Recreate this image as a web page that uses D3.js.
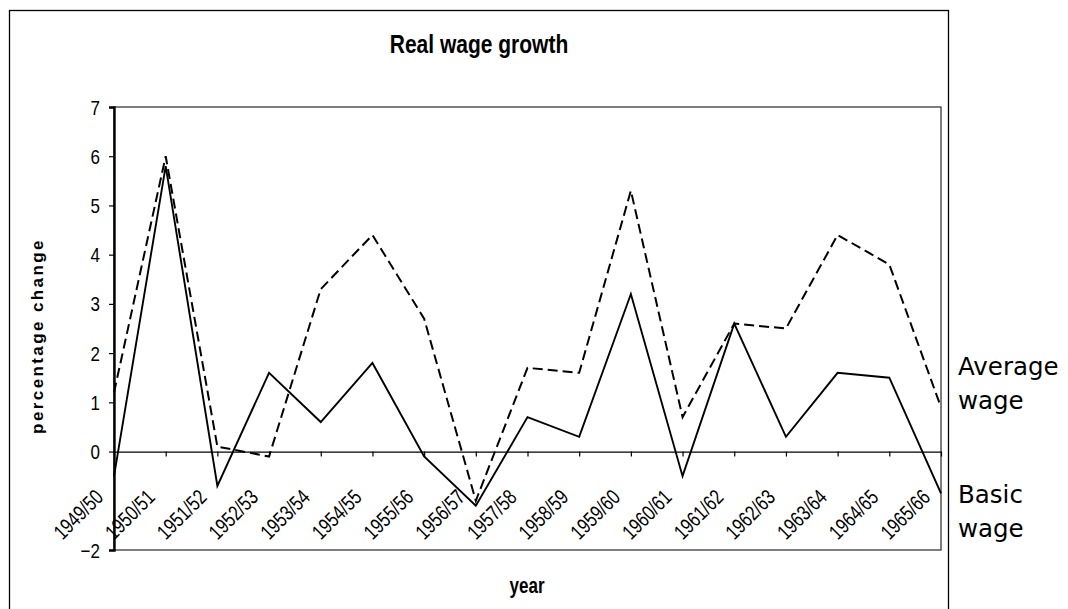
<!DOCTYPE html>
<html>
<head>
<meta charset="utf-8">
<script src="https://cdn.jsdelivr.net/npm/d3@7"></script>
<style>
  html, body { margin: 0; padding: 0; background: #fff; }
  svg { display: block; }
  text { font-family: "Liberation Sans", Arial, sans-serif; fill: #000; }
</style>
</head>
<body>
<svg id="chart" width="1068" height="609"></svg>
<script>
const categories = ["1949/50","1950/51","1951/52","1952/53","1953/54","1954/55","1955/56","1956/57",
  "1957/58","1958/59","1959/60","1960/61","1961/62","1962/63","1963/64","1964/65","1965/66"];
const averageWage = [1.2, 6.0, 0.1, -0.1, 3.3, 4.4, 2.7, -1.0, 1.7, 1.6, 5.3, 0.7, 2.6, 2.5, 4.4, 3.8, 0.9];
const basicWage   = [-0.5, 5.8, -0.7, 1.6, 0.6, 1.8, -0.1, -1.1, 0.7, 0.3, 3.2, -0.5, 2.6, 0.3, 1.6, 1.5, -0.85];
const yTicks = [-2, 0, 1, 2, 3, 4, 5, 6, 7];
const titleText = "Real wage growth";
const yTitle = "percentage change";
const xTitle = "year";
const legendAverage = ["Average", "wage"];
const legendBasic = ["Basic", "wage"];

const svg = d3.select("#chart");
const L = 114, R = 941, T = 107, B = 550;

// outer chart border
svg.append("rect").attr("x", 9.5).attr("y", 10.5).attr("width", 939).attr("height", 640)
  .attr("fill", "none").attr("stroke", "#000").attr("stroke-width", 1.3);

const x = d3.scalePoint().domain(categories).range([L, R]).padding(0);
const y = d3.scaleLinear().domain([-2, 7]).range([B, T]);

// plot area frame
svg.append("rect").attr("x", L).attr("y", T).attr("width", R - L).attr("height", B - T)
  .attr("fill", "none").attr("stroke", "#3a3a3a").attr("stroke-width", 1.3);

// y axis
const yAxis = svg.append("g").attr("transform", `translate(${L},0)`)
  .call(d3.axisLeft(y).tickValues(yTicks).tickSize(5).tickFormat(d3.format("d")));
yAxis.select(".domain").attr("stroke", "#000").attr("stroke-width", 2.4);
yAxis.selectAll(".tick line").attr("stroke", "#000").attr("stroke-width", 1.2);
yAxis.selectAll(".tick text")
  .attr("font-family", "'Liberation Sans', Arial, sans-serif")
  .attr("font-size", 17)
  .attr("x", 0).attr("dy", null).attr("y", 0)
  .attr("text-anchor", "end")
  .attr("transform", "translate(-14,7) scale(1,1.2)");

// x axis at zero
const xAxis = svg.append("g").attr("transform", `translate(0,${y(0)})`)
  .call(d3.axisBottom(x).tickSize(5).tickSizeOuter(0));
xAxis.select(".domain").attr("stroke", "#000").attr("stroke-width", 1.3);
xAxis.selectAll(".tick line").attr("stroke", "#000").attr("stroke-width", 1.2);
xAxis.selectAll(".tick text")
  .attr("font-family", "'Liberation Sans', Arial, sans-serif")
  .attr("font-size", 17)
  .attr("y", 0).attr("dy", null).attr("x", 0)
  .attr("text-anchor", "end")
  .attr("transform", "translate(-10,47) rotate(-45) scale(0.97,1.25)");

// lines
const line = d3.line().x((d, i) => x(categories[i])).y(d => y(d));
svg.append("path").datum(averageWage).attr("d", line)
  .attr("fill", "none").attr("stroke", "#000").attr("stroke-width", 2)
  .attr("stroke-dasharray", "10,5");
svg.append("path").datum(basicWage).attr("d", line)
  .attr("fill", "none").attr("stroke", "#000").attr("stroke-width", 1.9);

// title
svg.append("text").attr("transform", "translate(479,53) scale(1,1.2)")
  .attr("text-anchor", "middle").style("font-weight", "bold").style("font-size", "21px")
  .text(titleText);

// y title
svg.append("text").attr("transform", "translate(43,336) rotate(-90)")
  .attr("text-anchor", "middle").style("font-weight", "bold").style("font-size", "17px")
  .style("letter-spacing", "2.4px")
  .text(yTitle);

// x title
svg.append("text").attr("transform", "translate(527,593) scale(1,1.25)")
  .attr("text-anchor", "middle").style("font-weight", "bold").style("font-size", "17px")
  .text(xTitle);

// legend labels
const legend = svg.append("g");
legendAverage.forEach((t, i) => legend.append("text").attr("x", 958).attr("y", 375 + i * 34)
  .style("font-family", "'DejaVu Sans', sans-serif").style("font-size", "24.5px").text(t));
legendBasic.forEach((t, i) => legend.append("text").attr("x", 958).attr("y", 503 + i * 34)
  .style("font-family", "'DejaVu Sans', sans-serif").style("font-size", "24.5px").text(t));
</script>
</body>
</html>
